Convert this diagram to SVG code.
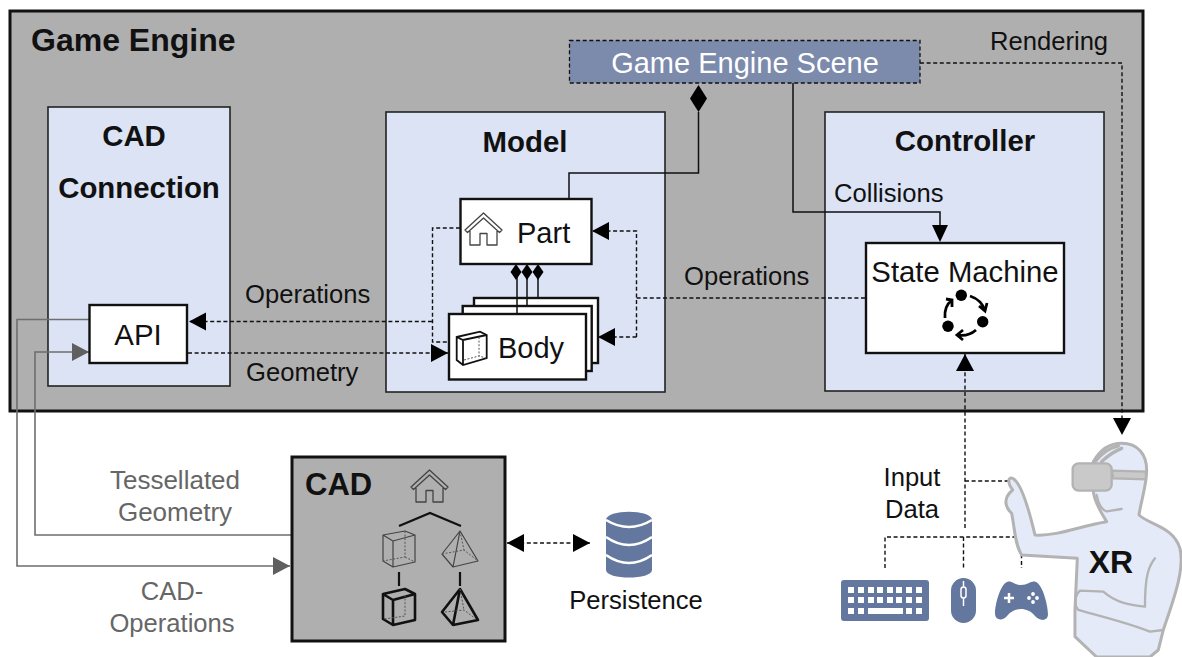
<svg xmlns="http://www.w3.org/2000/svg" width="1182" height="657" viewBox="0 0 1182 657">
<style>
text{font-family:"Liberation Sans",Arial,sans-serif;fill:#111}
.b{font-weight:bold}
.m{text-anchor:middle}
.t25{font-size:25.6px}
.t28{font-size:29.4px}
.gt{fill:#666}
.panel{fill:#dce3f5;stroke:#222;stroke-width:1.6}
.wb{fill:#fff;stroke:#111;stroke-width:2.4}
.ln{fill:none;stroke:#111;stroke-width:1.5}
.dash{fill:none;stroke:#111;stroke-width:1.4;stroke-dasharray:4 2.6}
.gl{fill:none;stroke:#6e6e6e;stroke-width:1.6}
.ic{fill:none;stroke:#444;stroke-width:1.2;stroke-linejoin:round}
.ick{fill:none;stroke:#111;stroke-width:2.6;stroke-linejoin:round}
.icd{fill:none;stroke:#555;stroke-width:1;stroke-dasharray:2 1.6}
.blue{fill:#64779f}
.xr{fill:none;stroke:#b3b3b3;stroke-width:10;stroke-linejoin:round;stroke-linecap:round}
</style>
<defs>
<marker id="ah" markerUnits="userSpaceOnUse" markerWidth="18" markerHeight="20" refX="17" refY="10" orient="auto-start-reverse"><path d="M0,1 L17,10 L0,19 Z" fill="#000"/></marker>
<marker id="ag" markerUnits="userSpaceOnUse" markerWidth="18" markerHeight="20" refX="17" refY="10" orient="auto"><path d="M0,1 L17,10 L0,19 Z" fill="#5f5f5f"/></marker>
<path id="dia" d="M0,-8 L5.5,0 L0,8 L-5.5,0 Z" fill="#000"/>
<g id="house"><path d="M0,17 L18.500,0 L37,17 L34.500,19.500 L18.500,5 L2.500,19.500 Z M5,18 V32 H15 V20.500 H22 V32 H32 V18" fill="none" stroke="#444" stroke-width="1.300" stroke-linejoin="round"/></g>
</defs>

<g id="game-engine"><rect x="10" y="11" width="1133" height="400" fill="#afafaf" stroke="#111" stroke-width="3"/><text x="31" y="51" class="b" font-size="32">Game Engine</text></g>

<g id="cad-connection"><rect x="48" y="107" width="182" height="279" class="panel"/><text x="134" y="146" class="b t28 m">CAD</text><text x="139" y="198" class="b t28 m">Connection</text></g>
<g id="model"><rect x="386" y="112" width="279" height="280" class="panel"/><text x="525" y="152" class="b t28 m">Model</text></g>
<g id="controller"><rect x="825" y="112" width="279" height="279" class="panel"/><text x="965" y="151" class="b t28 m">Controller</text></g>

<g id="connectors">
<path class="ln" d="M569,199 V173 H698.500 V112"/>
<path class="ln" d="M793,83 V212 H940 V226"/>
<path d="M940,242 L932,225 H948 Z" fill="#000"/>
<path class="dash" d="M920,63 H1122 V435" marker-end="url(#ah)"/>
<path class="ln" d="M517,272 V314 M527,272 V306 M538,272 V298"/>
<path class="dash" d="M460,228 H432.500 V342 H449"/>
<path class="dash" d="M432,321.500 H189" marker-end="url(#ah)"/>
<path class="dash" d="M188,353 H448" marker-end="url(#ah)"/>
<path class="dash" d="M865,298 H636.500"/>
<path class="dash" d="M636.500,337 V231 H592" marker-end="url(#ah)"/>
<path class="dash" d="M636.500,337 H598" marker-end="url(#ah)"/>
<path class="gl" d="M89,319.500 H17 V566 H290" marker-end="url(#ag)"/>
<path class="gl" d="M292,535 H35 V352 H89" marker-end="url(#ag)"/>
<path class="dash" d="M507,543 H590" marker-start="url(#ah)" marker-end="url(#ah)"/>
<path class="dash" d="M965,528 V354" marker-end="url(#ah)"/>
<path class="dash" d="M965,481 H1008"/>
<path class="dash" d="M885,568 V537 H1021.500 V568 M963.500,537 V568"/>
<use href="#dia" transform="translate(698.500,98.500) scale(1.55,1.7)"/>
<use href="#dia" x="516" y="272"/><use href="#dia" x="527" y="272"/><use href="#dia" x="538" y="272"/>
</g>

<g id="scene"><rect x="569.500" y="40.500" width="350.500" height="42.500" fill="#7c8aac" stroke="#111" stroke-width="1.300" stroke-dasharray="4 2.600"/><text x="745" y="73" font-size="29" class="m" style="fill:#fff">Game Engine Scene</text></g>

<g id="part"><rect x="460.500" y="199" width="131" height="65" class="wb"/><use href="#house" x="465" y="213"/><text x="517" y="243" font-size="29">Part</text></g>

<g id="body">
<rect x="474" y="298" width="124" height="65" class="wb"/>
<rect x="462.700" y="306" width="129" height="65" class="wb"/>
<rect x="449" y="314" width="137" height="65.500" class="wb"/>
<path d="M517,298 V314 M527,298 V306" class="ln"/>
<path class="ln" style="stroke-width:1.800" d="M456.700,337 L480,331.700 L486.700,335 V358 L463,365 L456.700,360 Z M456.700,337 L463,340 L486.700,335 M463,340 V365"/>
<path class="icd" d="M479,337 V356 M464,360 L479,356 L486,358"/>
<text x="498" y="358" font-size="29">Body</text>
</g>

<g id="api"><rect x="89.500" y="305" width="97.500" height="58" class="wb"/><text x="138" y="345" class="t28 m">API</text></g>

<g id="state-machine"><rect x="866" y="243" width="198" height="110" class="wb"/><text x="965" y="282" font-size="29.300" class="m">State Machine</text>
<circle cx="961.300" cy="295.300" r="5.700" fill="#000"/><circle cx="982.700" cy="321.700" r="5.700" fill="#000"/><circle cx="948" cy="326.300" r="5.700" fill="#000"/>
<g fill="none" stroke="#000" stroke-width="2.800"><path d="M970,296 Q982,300 985,311 M979,306 L985,311 L987,303"/><path d="M976,330 Q968,337 957,335 M963,330 L957,335 L963,340"/><path d="M945,318 Q944,306 952,300 M946,299 L952,300 L952,307"/></g>
</g>

<g id="cad"><rect x="292" y="457" width="213" height="184" fill="#afafaf" stroke="#111" stroke-width="3"/><text x="305" y="495" class="b" font-size="31">CAD</text>
<use href="#house" x="411" y="470"/>
<path d="M399,526 L430,513 L461,526 M399,572 V586 M460,572 V586" fill="none" stroke="#111" stroke-width="2.200"/>
<path class="ic" d="M383,535 L393,541 L415,535 V562 L393,567 L383,561 Z M383,535 L405,531 L415,535 M393,541 V567"/>
<path class="icd" d="M405,531 V557 L383,561 M405,557 L415,562"/>
<path class="ic" d="M460,531 L442,554 L453,567 L478,561 Z M460,531 L453,567"/>
<path class="icd" d="M460,531 L464,550 M442,554 L464,550 L478,561"/>
<path class="ick" d="M383,594 L393,600 L415,594 V620 L393,625 L383,619 Z M383,594 L405,589 L415,594 M393,600 V625"/>
<path class="icd" d="M405,595 V616 L384,619"/>
<path class="ick" d="M460,589 L442,612 L453,625 L478,620 Z M460,589 L453,625"/>
<path class="icd" d="M460,589 L464,610 M445,612 L464,610 L476,619"/>
</g>

<g id="persistence">
<path class="blue" d="M606,520 C606,509 652,509 652,520 V570 C652,580 606,580 606,570 Z"/>
<path d="M606,520 Q629,534 652,520 M606,537 Q629,553 652,537 M606,555 Q629,571 652,555" fill="none" stroke="#fff" stroke-width="2.600"/>
<text x="636" y="609" class="t25 m">Persistence</text>
</g>

<g id="keyboard"><rect x="841" y="580" width="88" height="41" rx="3" class="blue"/>
<g fill="#fff">
<rect x="848" y="587" width="6" height="6"/><rect x="858" y="587" width="6" height="6"/><rect x="868" y="587" width="6" height="6"/><rect x="877" y="587" width="6" height="6"/><rect x="887" y="587" width="6" height="6"/><rect x="896" y="587" width="6" height="6"/><rect x="906" y="587" width="6" height="6"/><rect x="916" y="587" width="6" height="6"/>
<rect x="848" y="597" width="6" height="6"/><rect x="858" y="597" width="6" height="6"/><rect x="868" y="597" width="6" height="6"/><rect x="877" y="597" width="6" height="6"/><rect x="887" y="597" width="6" height="6"/><rect x="896" y="597" width="6" height="6"/><rect x="906" y="597" width="6" height="6"/><rect x="916" y="597" width="6" height="6"/>
<rect x="848" y="608" width="6" height="6"/><rect x="858" y="608" width="6" height="6"/><rect x="868" y="608" width="35" height="6"/><rect x="906" y="608" width="6" height="6"/><rect x="916" y="608" width="6" height="6"/>
</g></g>

<g id="mouse"><rect x="951" y="578" width="25" height="45" rx="12.500" class="blue"/><path d="M963.500,581 V606" stroke="#fff" stroke-width="1.500"/><rect x="961" y="587" width="5" height="11" rx="2.500" fill="#64779f" stroke="#fff" stroke-width="1.500"/></g>

<g id="gamepad"><path class="blue" d="M1007,582 C1012,580 1013,585 1021,585 C1029,585 1031,580 1036,582 C1043,585 1048,606 1048,614 C1048,622 1039,621 1035,616 C1031,611 1026,609 1021,609 C1016,609 1011,611 1007,616 C1003,621 995,621 995,613 C995,605 1000,585 1007,582 Z"/>
<path d="M1009,593 V603 M1004,598 H1014" stroke="#fff" stroke-width="2.500"/>
<g fill="#fff"><circle cx="1033" cy="594" r="1.900"/><circle cx="1033" cy="602" r="1.900"/><circle cx="1029" cy="598" r="1.900"/><circle cx="1037" cy="598" r="1.900"/></g></g>

<g id="xr"><g transform="translate(830,420) scale(0.3333)">
<path d="M875,70 C925,70 950,105 950,150 C950,195 935,235 927,285 C960,315 1030,320 1050,385 C1065,450 1030,540 1000,630 L985,690 L960,711 L800,711 L735,650 L735,570 L742,415 L575,405 C555,375 555,330 545,280 C525,262 518,235 548,210 C535,195 530,170 548,175 C570,185 595,260 615,345 C680,350 760,315 830,305 C805,265 790,235 790,210 L790,125 C810,90 840,70 875,70 Z" fill="#e4eaf8" stroke="#b3b3b3" stroke-width="9" stroke-linejoin="round"/>
<path class="xr" style="stroke-width:7" d="M800,225 C805,250 815,270 830,274 L875,267 M975,415 C955,440 945,470 945,560 C900,555 860,550 820,515 L750,512 C735,525 730,555 745,570 C820,590 900,610 960,635 L1000,630"/>
<path class="xr" d="M795,125 C815,100 835,85 865,78 M815,125 C835,105 850,95 875,85"/>
<path d="M845,152 L948,155 V178 L850,175 Z" fill="#c9c9c9" stroke="#b3b3b3" stroke-width="7"/>
<rect x="728" y="130" width="117" height="82" rx="18" fill="#c9c9c9" stroke="#b3b3b3" stroke-width="7"/>
</g>
<text x="1111" y="573" class="b m" font-size="32">XR</text></g>

<g id="labels">
<text x="990" y="50" class="t25">Rendering</text>
<text x="834" y="202" class="t25">Collisions</text>
<text x="245" y="303" class="t25">Operations</text>
<text x="246" y="381" class="t25">Geometry</text>
<text x="684" y="285" class="t25">Operations</text>
<text x="175" y="489" font-size="26" class="m gt">Tessellated</text>
<text x="175" y="521" font-size="26" class="m gt">Geometry</text>
<text x="172" y="600" class="t25 m gt">CAD-</text>
<text x="172" y="632" class="t25 m gt">Operations</text>
<text x="912" y="486" class="t25 m">Input</text>
<text x="912" y="518" class="t25 m">Data</text>
</g>
</svg>
